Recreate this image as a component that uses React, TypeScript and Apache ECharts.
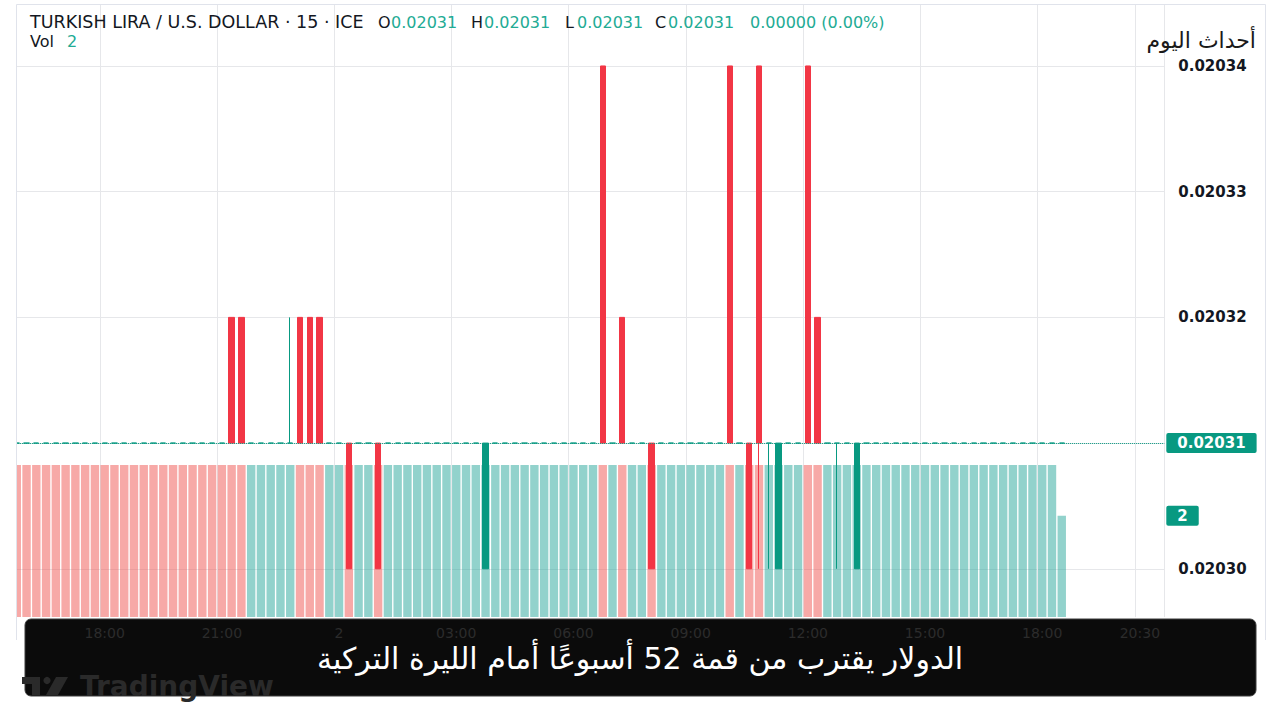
import React, { useEffect, useRef } from "react";
import * as echarts from "echarts";

// ---------- data ----------
const START_MINUTES = 15 * 60 + 45; // first bar 15:45
const SLOT_COUNT = 118; // time slots on the axis (incl. empty future slots)

// time-axis tick labels: [slot index, label]
const timeTicks: [number, string][] = [
  [9, "18:00"],
  [21, "21:00"],
  [33, "2"],
  [45, "03:00"],
  [57, "06:00"],
  [69, "09:00"],
  [81, "12:00"],
  [93, "15:00"],
  [105, "18:00"],
  [115, "20:30"],
];

const flatPrice = 0.02031; // unchanged (doji) bars
// bars that moved: [index, open, close, low, high]
const candleMoves: [number, number, number, number, number][] = [
  [22, 0.02032, 0.02031, 0.02031, 0.02032],
  [23, 0.02032, 0.02031, 0.02031, 0.02032],
  [28, 0.02031, 0.02031, 0.02031, 0.02032],
  [29, 0.02032, 0.02031, 0.02031, 0.02032],
  [30, 0.02032, 0.02031, 0.02031, 0.02032],
  [31, 0.02032, 0.02031, 0.02031, 0.02032],
  [34, 0.02031, 0.0203, 0.0203, 0.02031],
  [37, 0.02031, 0.0203, 0.0203, 0.02031],
  [48, 0.0203, 0.02031, 0.0203, 0.02031],
  [60, 0.02034, 0.02031, 0.02031, 0.02034],
  [62, 0.02032, 0.02031, 0.02031, 0.02032],
  [65, 0.02031, 0.0203, 0.0203, 0.02031],
  [73, 0.02034, 0.02031, 0.02031, 0.02034],
  [75, 0.02031, 0.0203, 0.0203, 0.02031],
  [76, 0.02034, 0.02031, 0.0203, 0.02034],
  [77, 0.02031, 0.02031, 0.0203, 0.02031],
  [78, 0.0203, 0.02031, 0.0203, 0.02031],
  [81, 0.02034, 0.02031, 0.02031, 0.02034],
  [82, 0.02032, 0.02031, 0.02031, 0.02032],
  [84, 0.02031, 0.02031, 0.0203, 0.02031],
  [86, 0.0203, 0.02031, 0.0203, 0.02031],
];

const volumes = [
  3, 3, 3, 3, 3, 3, 3, 3, 3, 3, 3, 3,
  3, 3, 3, 3, 3, 3, 3, 3, 3, 3, 3, 3,
  3, 3, 3, 3, 3, 3, 3, 3, 3, 3, 3, 3,
  3, 3, 3, 3, 3, 3, 3, 3, 3, 3, 3, 3,
  3, 3, 3, 3, 3, 3, 3, 3, 3, 3, 3, 3,
  3, 3, 3, 3, 3, 3, 3, 3, 3, 3, 3, 3,
  3, 3, 3, 3, 3, 3, 3, 3, 3, 3, 3, 3,
  3, 3, 3, 3, 3, 3, 3, 3, 3, 3, 3, 3,
  3, 3, 3, 3, 3, 3, 3, 3, 3, 3, 3, 2,
];
// volume bars drawn in the "down" colour
const redVolumeIdx = [
  0, 1, 2, 3, 4, 5, 6, 7, 8, 9, 10, 11, 12, 13, 14, 15, 16, 17, 18, 19, 20, 21, 22, 23,
  29, 30, 31, 34, 37, 60, 62, 65, 73, 75, 76, 81, 82,
];

const lastPriceLabel = "0.02031";
const lastVolumeLabel = "2";

// ---------- derived ----------
const cats = Array.from({ length: SLOT_COUNT }, (_, i) => {
  const m = (START_MINUTES + i * 15) % (24 * 60);
  const hh = String(Math.floor(m / 60)).padStart(2, "0");
  const mm = String(m % 60).padStart(2, "0");
  return `${hh}:${mm}`;
});
const tickMap = new Map<number, string>(timeTicks);
const moveMap = new Map<number, number[]>(candleMoves.map((c) => [c[0], c.slice(1)]));
const candleData = volumes.map((_, i) => moveMap.get(i) ?? [flatPrice, flatPrice, flatPrice, flatPrice]);
const redSet = new Set(redVolumeIdx);
const UP = "#089981";
const DOWN = "#F23645";
const volumeData = volumes.map((v, i) => ({
  value: v,
  itemStyle: { color: redSet.has(i) ? "rgba(239,83,80,0.5)" : "rgba(38,166,154,0.5)" },
}));

const GRID_LEFT = 11.9;
const GRID_RIGHT = 115.7;
const GRID_LINE = "#E6E7EA";
const AXIS_FONT = "DejaVu Sans";
const CLEAR = "rgba(0,0,0,0)";

const valueTag = (text: string) => ({
  show: true,
  position: "end",
  distance: 2,
  formatter: text,
  color: "#ffffff",
  backgroundColor: UP,
  borderRadius: 2,
  padding: [3, 11, 2, 11],
  fontFamily: AXIS_FONT,
  fontWeight: "bold",
  fontSize: 15,
});

const option: any = {
  animation: false,
  backgroundColor: "#ffffff",
  grid: [
    { left: GRID_LEFT, right: GRID_RIGHT, top: 5, bottom: 25.5 },
    { left: GRID_LEFT, right: GRID_RIGHT, top: 5, bottom: 102.9 },
  ],
  xAxis: [
    { type: "category", gridIndex: 0, data: cats, show: false, position: "bottom" },
    {
      type: "category",
      gridIndex: 1,
      data: cats,
      position: "bottom",
      axisLine: { show: false },
      axisTick: { show: false },
      axisLabel: { show: false },
      splitLine: {
        show: true,
        interval: (i: number) => tickMap.has(i),
        lineStyle: { color: GRID_LINE, width: 1 },
      },
    },
    {
      type: "category",
      gridIndex: 1,
      data: cats,
      position: "bottom",
      z: 115,
      axisLine: { show: false },
      axisTick: { show: false },
      splitLine: { show: false },
      axisLabel: {
        interval: (i: number) => tickMap.has(i),
        formatter: (_v: string, i: number) => tickMap.get(i) ?? "",
        color: "#2c2c2c",
        fontFamily: AXIS_FONT,
        fontSize: 14,
        margin: 9,
      },
    },
  ],
  yAxis: [
    {
      type: "value",
      gridIndex: 0,
      position: "right",
      min: 0.02029,
      max: 0.02034485,
      interval: 0.00001,
      axisLine: { show: false },
      axisTick: { show: false },
      splitLine: {
        show: true,
        lineStyle: {
          color: [CLEAR, GRID_LINE, GRID_LINE, GRID_LINE, GRID_LINE, GRID_LINE, CLEAR],
        },
      },
      axisLabel: {
        margin: 14,
        color: "#131722",
        fontFamily: AXIS_FONT,
        fontWeight: "bold",
        fontSize: 15,
        showMinLabel: false,
        showMaxLabel: false,
        formatter: (v: number) => {
          if (Math.abs(v - flatPrice) < 1e-9) return "";
          if (Math.abs(v * 1e5 - Math.round(v * 1e5)) > 1e-4) return "";
          return v.toFixed(5);
        },
      },
    },
    { type: "value", gridIndex: 1, min: 0, max: 12.07, show: false },
  ],
  series: [
    {
      type: "bar",
      xAxisIndex: 1,
      yAxisIndex: 1,
      data: volumeData,
      barWidth: 8.4,
      clip: false,
      z: 1,
      markLine: {
        silent: true,
        symbol: ["none", "none"],
        data: [{ yAxis: 2 }],
        lineStyle: { color: CLEAR, width: 0 },
        label: valueTag(lastVolumeLabel),
      },
    },
    {
      type: "candlestick",
      xAxisIndex: 0,
      yAxisIndex: 0,
      data: candleData,
      barWidth: 5.8,
      clip: false,
      z: 3,
      itemStyle: {
        color: UP,
        color0: DOWN,
        borderColor: UP,
        borderColor0: DOWN,
        borderColorDoji: UP,
        borderWidth: 1,
      },
      markLine: {
        silent: true,
        precision: 6,
        symbol: ["none", "none"],
        data: [{ yAxis: flatPrice }],
        lineStyle: { color: UP, type: "dotted", width: 1 },
        label: valueTag(lastPriceLabel),
      },
    },
  ],
  graphic: [
    // left mask (clips first partial bar) and frame
    { type: "rect", z: 100, shape: { x: 0, y: 0, width: 16.5, height: 720 }, style: { fill: "#ffffff" } },
    { type: "line", z: 101, shape: { x1: 16.5, y1: 4.5, x2: 1265.5, y2: 4.5 }, style: { stroke: "#E0E3EB", lineWidth: 1 } },
    { type: "line", z: 101, shape: { x1: 16.5, y1: 4.5, x2: 16.5, y2: 640 }, style: { stroke: "#E0E3EB", lineWidth: 1 } },
    { type: "line", z: 101, shape: { x1: 1265.5, y1: 4.5, x2: 1265.5, y2: 640 }, style: { stroke: "#E0E3EB", lineWidth: 1 } },
    // header
    ...[
      { x: 30, y: 22, t: "TURKISH LIRA / U.S. DOLLAR · 15 · ICE", c: "#131722", s: 17.5 },
      { x: 378, y: 22, t: "O", c: "#131722", s: 16 },
      { x: 391, y: 22, t: "0.02031", c: "#22AB94", s: 16 },
      { x: 471, y: 22, t: "H", c: "#131722", s: 16 },
      { x: 484, y: 22, t: "0.02031", c: "#22AB94", s: 16 },
      { x: 565, y: 22, t: "L", c: "#131722", s: 16 },
      { x: 577, y: 22, t: "0.02031", c: "#22AB94", s: 16 },
      { x: 655, y: 22, t: "C", c: "#131722", s: 16 },
      { x: 668, y: 22, t: "0.02031", c: "#22AB94", s: 16 },
      { x: 750, y: 22, t: "0.00000 (0.00%)", c: "#22AB94", s: 16 },
      { x: 30, y: 41, t: "Vol", c: "#131722", s: 16 },
      { x: 67, y: 41, t: "2", c: "#22AB94", s: 16 },
    ].map((h) => ({
      type: "text",
      z: 120,
      x: h.x,
      y: h.y,
      style: {
        text: h.t,
        fill: h.c,
        fontFamily: AXIS_FONT,
        fontSize: h.s,
        align: "left",
        verticalAlign: "middle",
        textAlign: "left",
        textVerticalAlign: "middle",
      },
    })),
    // news title
    {
      type: "text",
      z: 120,
      x: 1256,
      y: 40,
      style: {
        text: "أحداث اليوم",
        fill: "#1a1a1a",
        fontFamily: "DejaVu Sans",
        fontSize: 22,
        align: "right",
        verticalAlign: "middle",
        textAlign: "right",
        textVerticalAlign: "middle",
      },
    },
    // caption box
    {
      type: "rect",
      z: 110,
      shape: { x: 25, y: 619, width: 1231, height: 77, r: 6 },
      style: { fill: "#0b0b0b", stroke: "#3c3c3c", lineWidth: 1 },
    },
    {
      type: "text",
      z: 121,
      x: 640,
      y: 658,
      style: {
        text: "الدولار يقترب من قمة 52 أسبوعًا أمام الليرة التركية",
        fill: "#ffffff",
        fontFamily: "DejaVu Sans",
        fontSize: 30,
        align: "center",
        verticalAlign: "middle",
        textAlign: "center",
        textVerticalAlign: "middle",
      },
    },
    // TradingView watermark
    {
      type: "polygon",
      z: 119,
      shape: { points: [[22, 677], [40, 677], [40, 695], [32, 695], [32, 684], [22, 684]] },
      style: { fill: "#2a2a2a" },
    },
    { type: "circle", z: 119, shape: { cx: 47, cy: 680.5, r: 3.6 }, style: { fill: "#2a2a2a" } },
    {
      type: "polygon",
      z: 119,
      shape: { points: [[56, 677], [68, 677], [58, 695], [46, 695]] },
      style: { fill: "#2a2a2a" },
    },
    {
      type: "text",
      z: 119,
      x: 80,
      y: 686,
      style: {
        text: "TradingView",
        fill: "#2a2a2a",
        fontFamily: "DejaVu Sans",
        fontWeight: "bold",
        fontSize: 28,
        align: "left",
        verticalAlign: "middle",
        textAlign: "left",
        textVerticalAlign: "middle",
      },
    },
  ],
};

export default function App() {
  const ref = useRef<HTMLDivElement>(null);
  useEffect(() => {
    const chart = echarts.init(ref.current!, null, { renderer: "svg" });
    chart.setOption(option);
    return () => chart.dispose();
  }, []);
  return (
    <div
      ref={ref}
      style={{ position: "absolute", left: 0, top: 0, width: 1280, height: 720, background: "#ffffff" }}
    />
  );
}
